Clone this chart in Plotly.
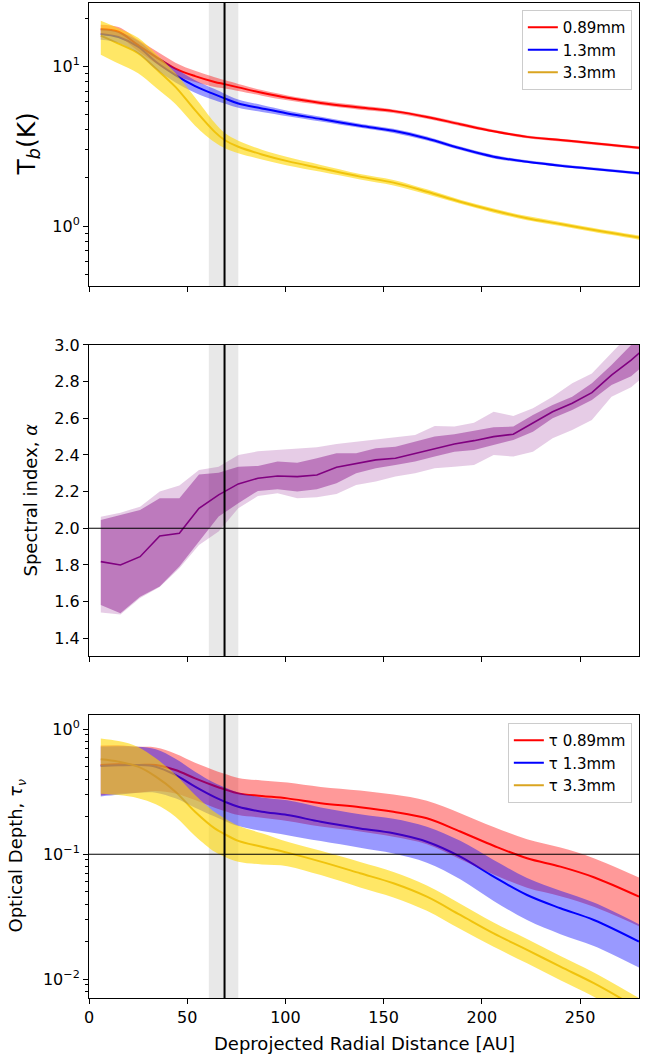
import plotly.graph_objects as go

# ---------------- data ----------------
# radial sample points for brightness temperature and optical depth [AU]
radius = [6, 15, 25, 34, 44, 54, 64, 69, 76, 88, 101, 118, 138, 155, 172, 189,
          206, 223, 240, 257, 280]

# brightness temperature [K]
tb_089 = [17.1, 16.5, 13.6, 11.5, 9.7, 8.7, 8.0, 7.75, 7.4, 6.84, 6.36, 5.91,
          5.53, 5.25, 4.83, 4.35, 3.93, 3.62, 3.46, 3.30, 3.09]
tb_13 = [16.0, 15.3, 13.3, 10.7, 8.83, 7.53, 6.68, 6.31, 5.86, 5.46, 5.08, 4.68,
         4.25, 3.95, 3.54, 3.07, 2.72, 2.53, 2.39, 2.28, 2.14]
tb_33 = [15.6, 13.9, 12.1, 9.7, 7.45, 5.32, 3.89, 3.46, 3.14, 2.81, 2.55, 2.30,
         2.04, 1.87, 1.64, 1.42, 1.25, 1.12, 1.03, 0.944, 0.846]
# fractional uncertainty of brightness temperature
tb_089_err = [0.07, 0.07, 0.08, 0.09, 0.09, 0.08, 0.07, 0.06, 0.05, 0.04, 0.035,
              0.03, 0.03, 0.025, 0.025, 0.025, 0.02, 0.02, 0.02, 0.02, 0.02]
tb_13_err = [0.08, 0.08, 0.09, 0.10, 0.10, 0.09, 0.08, 0.07, 0.06, 0.05, 0.04,
             0.035, 0.03, 0.03, 0.03, 0.025, 0.025, 0.02, 0.02, 0.02, 0.02]
tb_33_err = [0.24, 0.25, 0.25, 0.24, 0.22, 0.2, 0.14, 0.11, 0.09, 0.07, 0.06,
             0.05, 0.04, 0.04, 0.035, 0.03, 0.03, 0.03, 0.03, 0.03, 0.03]

# optical depth
tau_089 = [0.518, 0.525, 0.518, 0.518, 0.472, 0.405, 0.352, 0.331, 0.307, 0.293,
           0.28, 0.256, 0.238, 0.219, 0.194, 0.152, 0.117, 0.0929, 0.0796,
           0.0655, 0.0458]
tau_13 = [0.509, 0.515, 0.518, 0.502, 0.431, 0.347, 0.286, 0.264, 0.24, 0.219,
          0.206, 0.182, 0.161, 0.147, 0.126, 0.0957, 0.0662, 0.0472, 0.037,
          0.0298, 0.02]
tau_33 = [0.575, 0.551, 0.502, 0.418, 0.317, 0.219, 0.161, 0.145, 0.128, 0.115,
          0.103, 0.0873, 0.0705, 0.0586, 0.0458, 0.0327, 0.0233, 0.0172, 0.0126,
          0.0093, 0.0058]
tau_089_err = [0.43, 0.42, 0.40, 0.38, 0.35, 0.33, 0.33, 0.33, 0.33, 0.33, 0.34,
               0.35, 0.36, 0.37, 0.38, 0.40, 0.41, 0.42, 0.42, 0.42, 0.42]
tau_13_err = [0.43, 0.42, 0.40, 0.38, 0.35, 0.32, 0.30, 0.30, 0.30, 0.30, 0.31,
              0.30, 0.30, 0.31, 0.32, 0.34, 0.36, 0.37, 0.38, 0.38, 0.38]
tau_33_err = [0.47, 0.46, 0.44, 0.40, 0.37, 0.36, 0.35, 0.34, 0.32, 0.28, 0.22,
              0.22, 0.23, 0.23, 0.23, 0.23, 0.22, 0.22, 0.22, 0.22, 0.22]

# spectral index between bands
alpha_r = [6, 16, 26, 36, 46, 56, 66, 76, 86, 96, 106, 116, 126, 136, 146, 156,
           166, 176, 186, 196, 206, 216, 226, 236, 246, 256, 266, 276, 286]
alpha = [1.818, 1.80, 1.845, 1.958, 1.973, 2.109, 2.182, 2.242, 2.273, 2.285,
         2.282, 2.291, 2.333, 2.355, 2.373, 2.382, 2.409, 2.436, 2.46, 2.478,
         2.5, 2.513, 2.573, 2.636, 2.682, 2.74, 2.836, 2.918, 3.01]
alpha_hi1 = [2.045, 2.073, 2.1, 2.164, 2.164, 2.294, 2.303, 2.336, 2.34, 2.364,
             2.358, 2.382, 2.409, 2.409, 2.436, 2.445, 2.473, 2.5, 2.513, 2.533,
             2.551, 2.555, 2.618, 2.673, 2.718, 2.791, 2.891, 3.0, 3.1]
alpha_lo1 = [1.582, 1.536, 1.627, 1.682, 1.791, 1.927, 2.064, 2.136, 2.204, 2.213,
             2.2, 2.213, 2.245, 2.3, 2.327, 2.345, 2.364, 2.391, 2.418, 2.427,
             2.455, 2.482, 2.527, 2.6, 2.645, 2.7, 2.782, 2.83, 2.92]
alpha_hi2 = [2.063, 2.085, 2.118, 2.2, 2.233, 2.318, 2.336, 2.4, 2.42, 2.427,
             2.431, 2.442, 2.46, 2.473, 2.485, 2.496, 2.509, 2.558, 2.555, 2.576,
             2.636, 2.613, 2.655, 2.718, 2.791, 2.845, 2.955, 3.06, 3.18]
alpha_lo2 = [1.54, 1.53, 1.62, 1.68, 1.782, 1.909, 1.982, 2.109, 2.176, 2.191,
             2.164, 2.169, 2.187, 2.236, 2.255, 2.282, 2.3, 2.327, 2.336, 2.345,
             2.4, 2.391, 2.418, 2.491, 2.536, 2.591, 2.718, 2.77, 2.86]

# reference features
ring_r = 69.0
ring_lo, ring_hi = 61.0, 76.0
alpha_ref = 2.0
tau_ref = 0.1

band_names = ["0.89mm", "1.3mm", "3.3mm"]
line_colors = ["red", "blue", "goldenrod"]
fill_colors = ["rgba(255,0,0,0.4)", "rgba(0,0,255,0.4)", "rgba(255,215,0,0.6)"]

FONT = "DejaVu Sans"
fig = go.Figure()


def add_panel(values, errs, xa, ya, prefix, legend):
    # lines first, then the shaded uncertainty bands on top of them
    for v, name, lc in zip(values, band_names, line_colors):
        fig.add_trace(go.Scatter(
            x=radius, y=v, mode="lines", name=prefix + name,
            line=dict(color=lc, width=2, shape="spline"),
            xaxis=xa, yaxis=ya, legend=legend, hoverinfo="skip"))
    for v, e, fc in zip(values, errs, fill_colors):
        lo = [a * (1 - b) for a, b in zip(v, e)]
        hi = [a * (1 + b) for a, b in zip(v, e)]
        fig.add_trace(go.Scatter(
            x=radius, y=lo, mode="lines", line=dict(width=0, shape="spline"),
            showlegend=False, xaxis=xa, yaxis=ya, hoverinfo="skip"))
        fig.add_trace(go.Scatter(
            x=radius, y=hi, mode="lines", line=dict(width=0, shape="spline"),
            fill="tonexty", fillcolor=fc, showlegend=False,
            xaxis=xa, yaxis=ya, hoverinfo="skip"))


add_panel([tb_089, tb_13, tb_33], [tb_089_err, tb_13_err, tb_33_err],
          "x", "y", "", "legend")

# spectral index panel
fig.add_trace(go.Scatter(x=alpha_r, y=alpha_lo2, mode="lines", line=dict(width=0),
                         showlegend=False, xaxis="x2", yaxis="y2", hoverinfo="skip"))
fig.add_trace(go.Scatter(x=alpha_r, y=alpha_hi2, mode="lines", line=dict(width=0),
                         fill="tonexty", fillcolor="rgba(128,0,128,0.2)",
                         showlegend=False, xaxis="x2", yaxis="y2", hoverinfo="skip"))
fig.add_trace(go.Scatter(x=alpha_r, y=alpha_lo1, mode="lines", line=dict(width=0),
                         showlegend=False, xaxis="x2", yaxis="y2", hoverinfo="skip"))
fig.add_trace(go.Scatter(x=alpha_r, y=alpha_hi1, mode="lines", line=dict(width=0),
                         fill="tonexty", fillcolor="rgba(128,0,128,0.4)",
                         showlegend=False, xaxis="x2", yaxis="y2", hoverinfo="skip"))
fig.add_trace(go.Scatter(x=alpha_r, y=alpha, mode="lines",
                         line=dict(color="purple", width=1.6),
                         showlegend=False, xaxis="x2", yaxis="y2", hoverinfo="skip"))

add_panel([tau_089, tau_13, tau_33], [tau_089_err, tau_13_err, tau_33_err],
          "x3", "y3", "\u03c4 ", "legend2")

# ---------------- layout ----------------
tick_font = dict(family=FONT, size=16, color="black")
common_x = dict(range=[0, 280], tickvals=[0, 50, 100, 150, 200, 250],
                ticks="outside", ticklen=5, tickwidth=1, tickcolor="black",
                showline=True, linecolor="black", linewidth=1, mirror=True,
                showgrid=False, zeroline=False, tickfont=tick_font,
                automargin=False)
common_y = dict(ticks="outside", ticklen=5, tickwidth=1, tickcolor="black",
                showline=True, linecolor="black", linewidth=1, mirror=True,
                showgrid=False, zeroline=False, tickfont=tick_font,
                automargin=False)

tb_minor = [0.5, 0.6, 0.7, 0.8, 0.9, 2, 3, 4, 5, 6, 7, 8, 9, 20]
tau_minor = [0.008, 0.009, 0.02, 0.03, 0.04, 0.05, 0.06, 0.07, 0.08, 0.09,
             0.2, 0.3, 0.4, 0.5, 0.6, 0.7, 0.8, 0.9]
minor_style = dict(ticks="outside", ticklen=3, tickwidth=1, tickcolor="black")

legend_style = dict(xanchor="right", yanchor="top", traceorder="normal",
                    bgcolor="rgba(255,255,255,0.8)", bordercolor="#cccccc",
                    borderwidth=1, font=dict(family=FONT, size=15),
                    tracegroupgap=0, itemwidth=30)

fig.update_layout(
    width=657, height=1057,
    margin=dict(l=89, r=18, t=3, b=59, autoexpand=False),
    paper_bgcolor="white", plot_bgcolor="white",
    font=dict(family=FONT, size=16, color="black"),
    xaxis=dict(common_x, anchor="y", showticklabels=False),
    xaxis2=dict(common_x, anchor="y2", showticklabels=False, matches="x"),
    xaxis3=dict(common_x, anchor="y3", matches="x"),
    yaxis=dict(common_y, type="log", range=[-0.376, 1.398],
               domain=[0.7156, 1.0], tickvals=[1, 10],
               ticktext=["10<sup>0</sup>", "10<sup>1</sup>"],
               minor=dict(minor_style, tickvals=tb_minor)),
    yaxis2=dict(common_y, range=[1.303, 3.0], domain=[0.3437, 0.6563],
                tickvals=[1.4, 1.6, 1.8, 2.0, 2.2, 2.4, 2.6, 2.8, 3.0],
                ticktext=["1.4", "1.6", "1.8", "2.0", "2.2", "2.4", "2.6", "2.8", "3.0"]),
    yaxis3=dict(common_y, type="log", range=[-2.15, 0.114],
                domain=[0.0, 0.2844], tickvals=[0.01, 0.1, 1],
                ticktext=["10<sup>\u22122</sup>", "10<sup>\u22121</sup>", "10<sup>0</sup>"],
                minor=dict(minor_style, tickvals=tau_minor)),
    legend=dict(legend_style, x=0.987, y=0.993),
    legend2=dict(legend_style, x=0.987, y=0.2764),
)

shapes = []
for xa, ya in [("x", "y"), ("x2", "y2"), ("x3", "y3")]:
    shapes.append(dict(type="rect", xref=xa, yref=ya + " domain",
                       x0=ring_lo, x1=ring_hi, y0=0, y1=1,
                       fillcolor="#e8e8e8", line=dict(width=0), layer="below"))
    shapes.append(dict(type="line", xref=xa, yref=ya + " domain",
                       x0=ring_r, x1=ring_r, y0=0, y1=1,
                       line=dict(color="black", width=2), layer="above"))
shapes.append(dict(type="line", xref="x2 domain", yref="y2", x0=0, x1=1,
                   y0=alpha_ref, y1=alpha_ref,
                   line=dict(color="black", width=1.2), layer="above"))
shapes.append(dict(type="line", xref="x3 domain", yref="y3", x0=0, x1=1,
                   y0=tau_ref, y1=tau_ref,
                   line=dict(color="black", width=1.2), layer="above"))
fig.update_layout(shapes=shapes)

annotations = [
    dict(text="T<sub><i>b</i></sub>(K)", xref="paper", yref="paper",
         x=0, y=(0.7156 + 1.0) / 2, xanchor="center", yanchor="middle",
         xshift=-61, textangle=-90, showarrow=False,
         font=dict(family=FONT, size=25)),
    dict(text="Spectral index, <i>\u03b1</i>", xref="paper", yref="paper",
         x=0, y=(0.3437 + 0.6563) / 2, xanchor="center", yanchor="middle",
         xshift=-59, textangle=-90, showarrow=False,
         font=dict(family=FONT, size=18)),
    dict(text="Optical Depth, <i>\u03c4</i><sub><i>\u03bd</i></sub>", xref="paper",
         yref="paper", x=0, y=0.2844 / 2, xanchor="center", yanchor="middle",
         xshift=-72, textangle=-90, showarrow=False,
         font=dict(family=FONT, size=18)),
    dict(text="Deprojected Radial Distance [AU]", xref="paper", yref="paper",
         x=0.5, y=0, xanchor="center", yanchor="middle", yshift=-45,
         showarrow=False, font=dict(family=FONT, size=18)),
]
fig.update_layout(annotations=annotations)

fig.write_html("out.html")
